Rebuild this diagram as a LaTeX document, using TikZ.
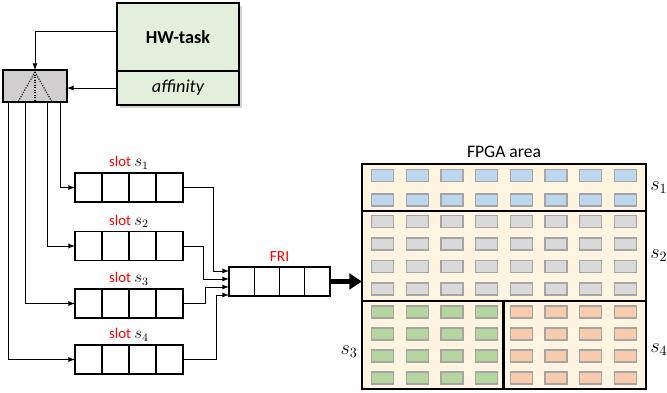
\documentclass[tikz,border=0pt]{standalone}
\usepackage{fontspec}
\setmainfont{Carlito}
\usetikzlibrary{arrows.meta, positioning, shadows, calc}
\definecolor{taskgreen}{HTML}{E2EFDA}
\definecolor{dispgray}{HTML}{D0CECE}
\definecolor{fpgabg}{HTML}{FEF4E0}
\definecolor{clbblue}{HTML}{BDD7EE}
\definecolor{clbgray}{HTML}{D9D9D9}
\definecolor{clbgreen}{HTML}{B5D69E}
\definecolor{clborange}{HTML}{F8CBAD}
\definecolor{clbedge}{HTML}{A5A5A5}
\definecolor{slotred}{HTML}{FF0000}

\begin{document}
\begin{tikzpicture}[x=0.025cm, y=-0.025cm]
    \tikzset{conn/.style={->, >=latex, line width=0.65pt},
             queue/.style={draw, line width=1.1pt, inner sep=0pt, outer sep=0pt,
                           minimum width=2.7cm, minimum height=0.725cm},
             slotlab/.style={inner sep=0pt, text=slotred, font=\fontsize{10.5}{12}\selectfont},
             task/.style={draw, line width=1.1pt, fill=taskgreen, inner sep=0pt, outer sep=0pt,
                          minimum width=3.05cm, font=\fontsize{13}{15}\selectfont,
                          drop shadow={shadow xshift=0.07cm, shadow yshift=-0.07cm, opacity=0.35}},
             clb/.style={draw=clbedge, line width=0.9pt},
             region/.style={inner sep=0pt, font=\fontsize{14.5}{16}\selectfont}}
    \useasboundingbox (0,0) rectangle (667,393);

    % task and dispatcher
    \node[task, minimum height=1.7cm] (hw) at (178,37) {\bfseries HW-task};
    \node[task, minimum height=0.85cm, below=0pt of hw] (aff) {\itshape affinity};
    \node[draw, line width=0.8pt, fill=dispgray, minimum width=1.6cm, minimum height=0.8cm,
          inner sep=0pt, outer sep=0pt] (disp) at (35,86) {};
    \foreach \dx in {-17,0,17}
        \draw[densely dotted, line width=0.8pt] ($(disp.north)+(0,2)$) -- ($(disp.south)+(\dx,0)$);
    \draw[conn] ($(hw.west)+(0,-6)$) -| (disp.north);
    \draw[conn] (aff.west) -- (aff.west -| disp.east);

    % slot queues
    \node[queue] (q1) at (129,187.5) {};
    \node[queue] (q2) at (129,246) {};
    \node[queue] (q3) at (129,303.5) {};
    \node[queue] (q4) at (129,359.5) {};
    \node[queue, minimum width=2.525cm] (fri) at (279.5,281.5) {};
    \foreach \q in {q1,q2,q3,q4,fri}
        \foreach \i in {1,2,3}
            \draw[line width=0.8pt] ($(\q.north west)!\i/4!(\q.north east)$) -- ($(\q.south west)!\i/4!(\q.south east)$);
    \foreach \q/\s in {q1/1,q2/2,q3/3,q4/4}
        \node[slotlab, above=2.5pt of \q] (lab\q) {slot \textcolor{black}{\fontsize{12}{12}\selectfont$s_{\s}$}};
    \node[slotlab, font=\fontsize{11}{13}\selectfont, above=4pt of fri] (labfri) {FRI};

    \draw[conn] ($(disp.south west)+(57,0)$) |- (q1.west);
    \draw[conn] ($(disp.south west)+(44,0)$) |- (q2.west);
    \draw[conn] ($(disp.south west)+(22,0)$) |- (q3.west);
    \draw[conn] ($(disp.south west)+(5,0)$) |- (q4.west);

    \coordinate (in1) at ($(fri.north west)+(0,4)$);
    \coordinate (in2) at ($(fri.north west)+(0,12)$);
    \coordinate (in3) at ($(fri.north west)+(0,20)$);
    \coordinate (in4) at ($(fri.north west)+(0,28)$);
    \draw[conn] (q1.east) -- ++(30,0) |- (in1);
    \draw[conn] (q2.east) -- ++(20,0) |- (in2);
    \draw[conn] (q3.east) -- ++(22,0) |- (in3);
    \draw[conn] (q4.east) -- ++(33,0) |- (in4);

    % FPGA area
    \node[draw, line width=2pt, fill=fpgabg, inner sep=0pt, outer sep=0pt,
          minimum width=7.1cm, minimum height=5.625cm] (fpga) at (504,276.5) {};
    \node[inner sep=0pt, above=4pt of fpga, font=\fontsize{12.5}{14}\selectfont] (fpgalab) {FPGA area};
    \draw[-{Triangle[length=9pt,width=11pt]}, line width=3.5pt] (fri.east) -- (fpga.west |- fri.east);

    \foreach \y in {175.5,200}
        \foreach \k in {0,...,7}
            \draw[clb, fill=clbblue] ({371.5+34.7*\k}, {\y-6}) rectangle ++(22,12);
    \foreach \y in {221.5,244,266.5,289}
        \foreach \k in {0,...,7}
            \draw[clb, fill=clbgray] ({371.5+34.7*\k}, {\y-6}) rectangle ++(22,12);
    \foreach \y in {312,334,356,378} {
        \foreach \k in {0,...,3}
            \draw[clb, fill=clbgreen] ({371.5+34.7*\k}, {\y-6}) rectangle ++(22,12);
        \foreach \k in {4,...,7}
            \draw[clb, fill=clborange] ({371.5+34.7*\k}, {\y-6}) rectangle ++(22,12);
    }
    \draw[line width=2pt] ($(fpga.north west)+(0,47)$) -- ($(fpga.north east)+(0,47)$);
    \draw[line width=2pt] ($(fpga.north west)+(0,137)$) -- ($(fpga.north east)+(0,137)$);
    \draw[line width=2pt] ($(fpga.south)+(-0.5,0)$) -- ($(fpga.south)+(-0.5,-88)$);

    \node[region, anchor=west] (r1) at (650,188) {$s_1$};
    \node[region, anchor=west] (r2) at (650,256) {$s_2$};
    \node[region, anchor=east] (r3) at (358,352) {$s_3$};
    \node[region, anchor=west] (r4) at (650,350) {$s_4$};
\end{tikzpicture}
\end{document}
